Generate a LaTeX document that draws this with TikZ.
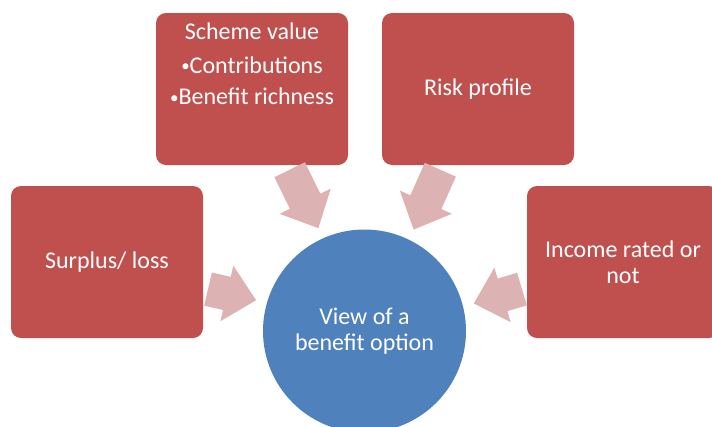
\documentclass[tikz,border=0pt]{standalone}
\usepackage{fontspec}
\setmainfont{Carlito}
\usetikzlibrary{calc}
\usetikzlibrary{positioning}
\definecolor{boxred}{HTML}{C0504D}
\definecolor{hubblue}{HTML}{4F81BD}
\definecolor{flowpink}{HTML}{DDB2B2}
\newcommand\flowarrow[2]{%
  \path let \p1=(#1), \p2=(#2), \n1={atan2(\y2-\y1,\x2-\x1)}, \n2={\n1+180} in
    coordinate (#1-s) at ($(#1.\n1)!5pt!(#2)$)
    coordinate (#1-t) at ($(#2.\n2)!11pt!(#1)$);
  \coordinate (#1-h) at ($(#1-t)!30pt!(#1-s)$);
  \fill [flowpink] ($(#1-s)!17pt!90:(#1-t)$) -- ($(#1-h)!17pt!90:(#1-t)$)
    -- ($(#1-h)!28.5pt!90:(#1-t)$) -- (#1-t) -- ($(#1-h)!28.5pt!-90:(#1-t)$)
    -- ($(#1-h)!17pt!-90:(#1-t)$) -- ($(#1-s)!17pt!-90:(#1-t)$) -- cycle;
}
\newcommand\bul{\raisebox{1.5pt}{\fontsize{17}{17}\selectfont•}}

\begin{document}
\begin{tikzpicture} [
  x=1pt,y=-1pt,
  every node/.style={text=white,align=center,inner sep=0pt,font=\fontsize{24}{26}\selectfont},
  factorbox/.style={rectangle,rounded corners=10pt,fill=boxred,minimum width=192pt,minimum height=152pt},
  hub/.style={circle,fill=hubblue,minimum size=203pt}
  ]
  \clip (0,0) rectangle (712,426);
  \node (scheme) [factorbox] at (252,89) {};
  \node (schemetext) [below=9.5pt of scheme.north]
    {Scheme value\\[8pt]\bul Contributions\\[5.5pt]\bul Benefit richness};
  \node (risk) [factorbox] at (478,89) {Risk profile};
  \node (surplus) [factorbox] at (107,262) {Surplus/ loss};
  \node (income) [factorbox] at (623,262) {Income rated or\\not};
  \node (hub) [hub] at (364.5,331) {View of a\\benefit option};
  \flowarrow{surplus}{hub}
  \flowarrow{scheme}{hub}
  \flowarrow{risk}{hub}
  \flowarrow{income}{hub}
\end{tikzpicture}
\end{document}
